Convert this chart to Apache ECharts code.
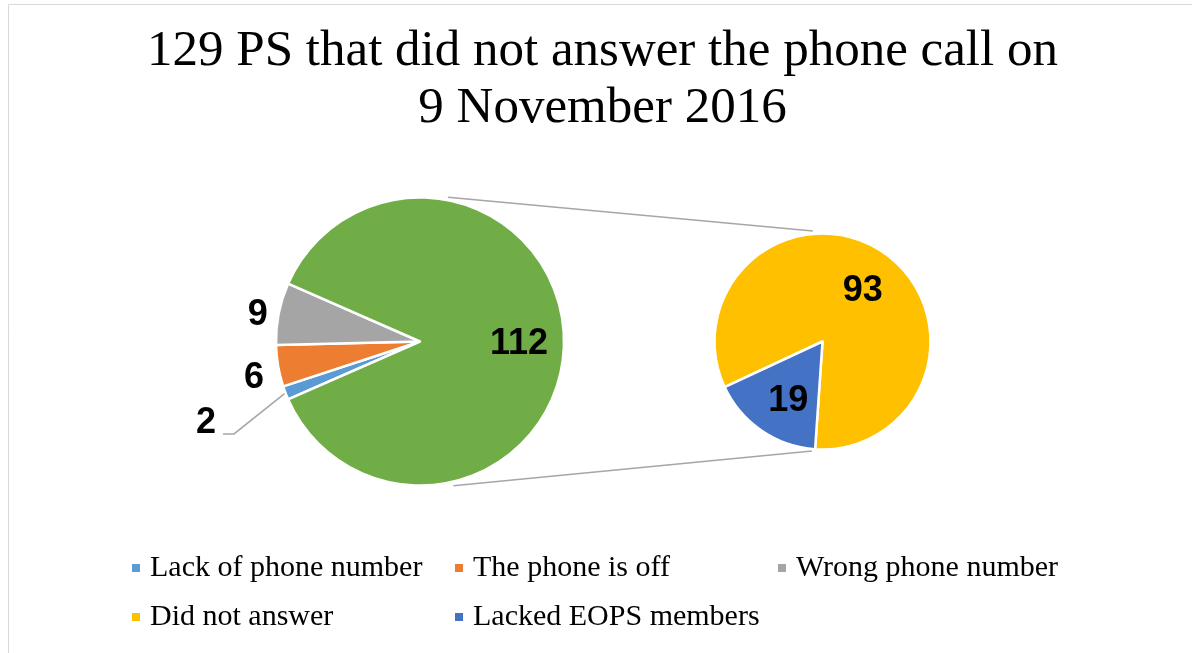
<!DOCTYPE html>
<html><head><meta charset="utf-8">
<script src="https://cdn.jsdelivr.net/npm/echarts@6/dist/echarts.min.js"></script>
<style>html,body{margin:0;padding:0;background:#fff}#c{width:1192px;height:653px}</style>
</head><body><div id="c"></div>
<script>
// ---- data ----
const titleLines = ['129 PS that did not answer the phone call on', '9 November 2016'];
const mainNames = ['Lack of phone number', 'The phone is off', 'Wrong phone number'];
const mainValues = [2, 6, 9];
const otherName = 'Other';
const subNames = ['Did not answer', 'Lacked EOPS members'];
const subValues = [93, 19];
const legendNames = ['Lack of phone number', 'The phone is off', 'Wrong phone number', 'Did not answer', 'Lacked EOPS members'];

// ---- style ----
const mainColors = ['#5B9BD5', '#ED7D31', '#A5A5A5'];
const otherColor = '#70AD47';
const subColors = ['#FFC000', '#4472C4'];
const mainC = [420, 341.5], mainR = 144;
const subC = [822.5, 341.5], subR = 108;
const subStart = 205;
const lineColor = '#A6A6A6';

const otherValue = subValues.reduce((a, b) => a + b, 0);
const mainAll = mainValues.concat([otherValue]);
const total = mainAll.reduce((a, b) => a + b, 0);
const mainStart = 180 + 180 * (total - otherValue) / total;
function mainMid(i) {
  let cum = 0; for (let k = 0; k < i; k++) cum += mainAll[k];
  return mainStart - 360 * (cum + mainAll[i] / 2) / total;
}
// label nudges (series-index, data-index) -> [dx, dy]
const labelShift = { '0-1': [-9, 12], '0-2': [-6, 1], '0-3': [24, 3], '1-0': [8, -3], '1-1': [-2, 13] };

const chart = echarts.init(document.getElementById('c'), null, { renderer: 'canvas' });

const labelFont = { fontFamily: 'Liberation Sans', fontWeight: 'bold', fontSize: 36, color: '#000' };

const mainData = mainAll.map((v, i) => {
  const isOther = i === mainValues.length;
  const d = {
    name: isOther ? otherName : mainNames[i],
    value: v,
    itemStyle: { color: isOther ? otherColor : mainColors[i] },
    label: { position: isOther ? 'inside' : 'outside' }
  };
  if (i === 0) d.labelLine = { show: true };
  return d;
});
const subData = subValues.map((v, i) => ({ name: subNames[i], value: v, itemStyle: { color: subColors[i] } }));

function pt(c, r, deg) {
  const a = deg * Math.PI / 180;
  return [c[0] + r * Math.cos(a), c[1] - r * Math.sin(a)];
}
const topA = pt(mainC, mainR + 3, 79), topB = pt(subC, subR + 3, 95);
const botA = pt(mainC, mainR + 4, -77), botB = pt(subC, subR + 2, -95.5);

chart.setOption({
  animation: false,
  backgroundColor: '#fff',
  title: {
    text: titleLines.join('\n'),
    left: 602.5,
    textAlign: 'center',
    top: 23,
    padding: 0,
    textStyle: { fontFamily: 'Liberation Serif', fontWeight: 'normal', fontSize: 51, lineHeight: 57, color: '#000' }
  },
  legend: {
    data: legendNames,
    left: 130,
    top: 550,
    width: 990,
    padding: 0,
    itemGap: 13,
    itemWidth: 10,
    itemHeight: 10,
    icon: 'rect',
    selectedMode: false,
    textStyle: { fontFamily: 'Liberation Serif', fontSize: 30, color: '#000', width: 290, lineHeight: 36, padding: [0, 0, 0, 4] }
  },
  graphic: [
    { type: 'rect', silent: true, shape: { x: 8.5, y: 4.5, width: 1400, height: 900 }, style: { fill: 'none', stroke: '#D9D9D9', lineWidth: 1 } },
    { type: 'line', silent: true, shape: { x1: topA[0], y1: topA[1], x2: topB[0], y2: topB[1] }, style: { stroke: lineColor, lineWidth: 1.5 } },
    { type: 'line', silent: true, shape: { x1: botA[0], y1: botA[1], x2: botB[0], y2: botB[1] }, style: { stroke: lineColor, lineWidth: 1.5 } }
  ],
  series: [
    {
      type: 'pie',
      center: mainC,
      radius: [0, mainR],
      startAngle: mainStart,
      clockwise: true,
      avoidLabelOverlap: false,
      emphasis: { disabled: true },
      itemStyle: { borderColor: '#fff', borderWidth: 2.5 },
      label: Object.assign({ show: true, formatter: '{c}', distanceToLabelLine: 5 }, labelFont),
      labelLine: { show: false, length: 0, length2: 0, lineStyle: { color: lineColor, width: 1.5 } },
      data: mainData,
      labelLayout: function (p) {
        if (p.dataIndex === 0) {
          const q = pt(mainC, mainR, mainMid(0));
          return {
            x: q[0] - 69.5, y: q[1] + 30, align: 'right', verticalAlign: 'middle',
            labelLinePoints: [[q[0], q[1]], [q[0] - 51.5, q[1] + 41], [q[0] - 62.5, q[1] + 41]]
          };
        }
        const s = labelShift['0-' + p.dataIndex];
        return s ? { dx: s[0], dy: s[1] } : {};
      }
    },
    {
      type: 'pie',
      center: subC,
      radius: [0, subR],
      startAngle: subStart,
      clockwise: true,
      avoidLabelOverlap: false,
      emphasis: { disabled: true },
      itemStyle: { borderColor: '#fff', borderWidth: 2.5 },
      label: Object.assign({ show: true, position: 'inside', formatter: '{c}' }, labelFont),
      labelLine: { show: false },
      data: subData,
      labelLayout: function (p) {
        const s = labelShift['1-' + p.dataIndex];
        return s ? { dx: s[0], dy: s[1] } : {};
      }
    }
  ]
});
</script>
</body></html>
